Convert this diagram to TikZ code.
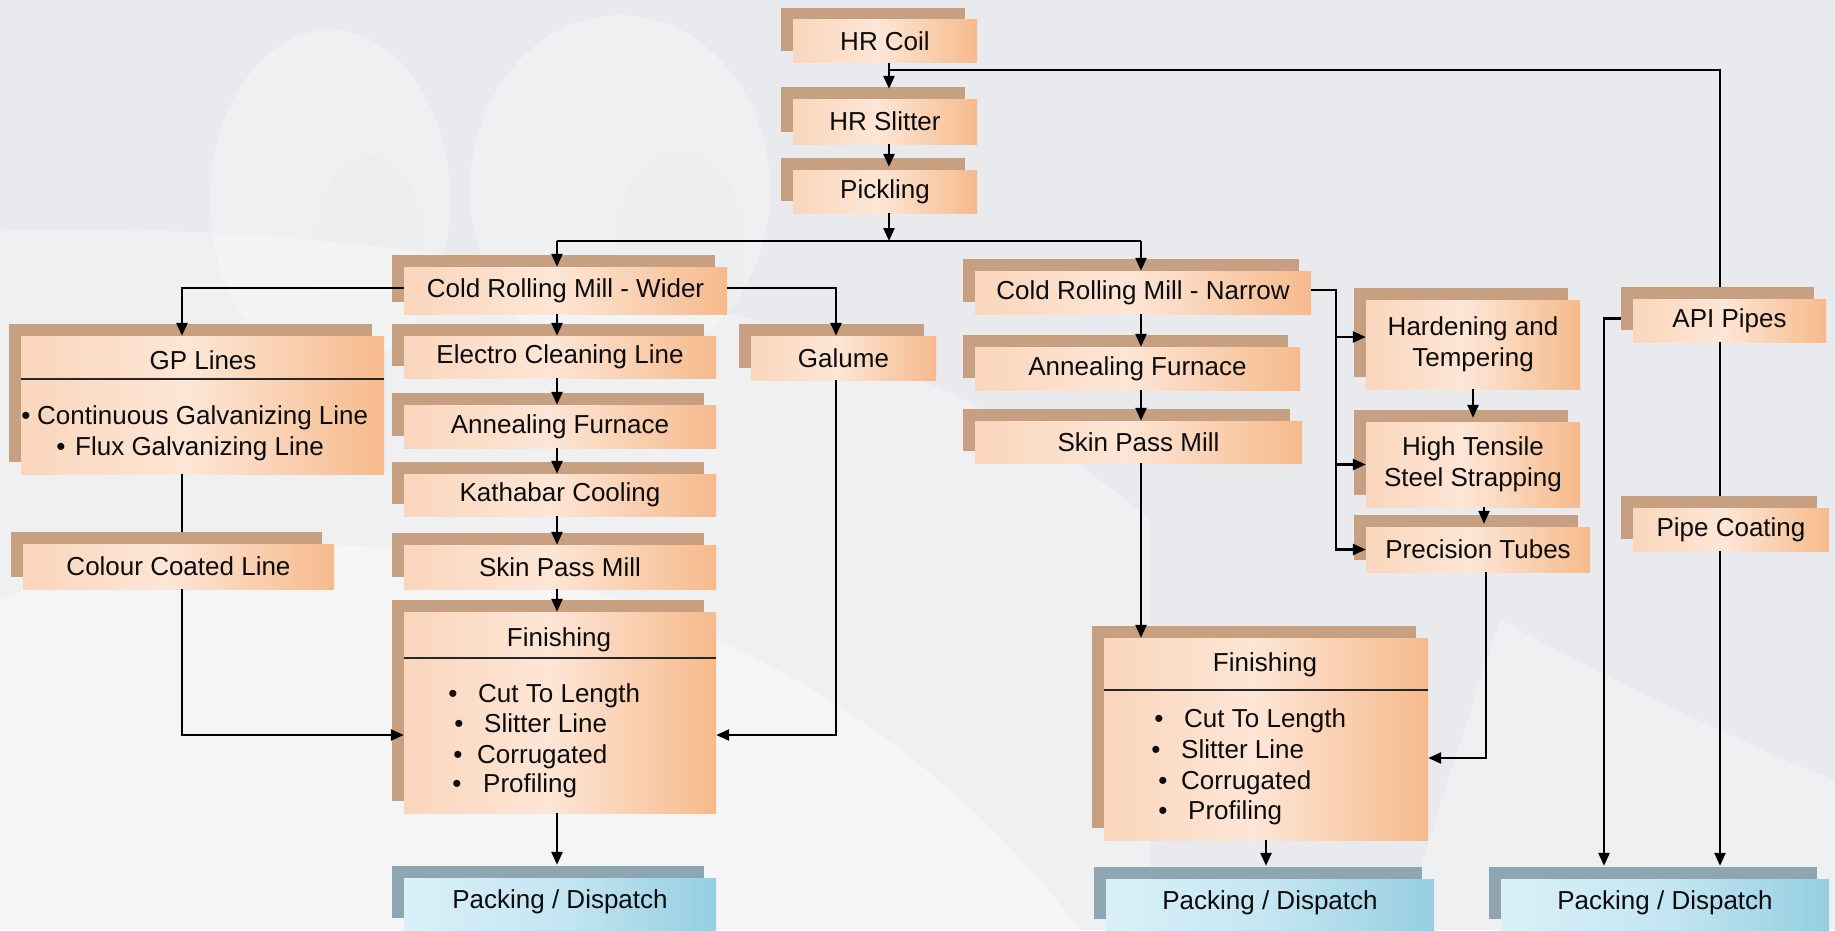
\documentclass[tikz,border=0pt]{standalone}
\usepackage{fontspec}
\setmainfont{Liberation Sans}
\usetikzlibrary{shadows,arrows.meta,calc}
\definecolor{bgc}{RGB}{233,234,237}
\definecolor{tanS}{RGB}{198,160,128}
\definecolor{orL}{RGB}{250,214,188}
\definecolor{orM}{RGB}{253,230,214}
\definecolor{orA}{RGB}{246,186,140}
\definecolor{blS}{RGB}{142,166,178}
\definecolor{blL}{RGB}{218,240,248}
\definecolor{blM}{RGB}{196,230,242}
\definecolor{blA}{RGB}{150,206,226}
\definecolor{txtc}{RGB}{12,12,12}
\pgfdeclarehorizontalshading{orshade}{100bp}{color(0bp)=(orL); color(25bp)=(orL); color(48bp)=(orM); color(75bp)=(orA); color(100bp)=(orA)}
\pgfdeclarehorizontalshading{blshade}{100bp}{color(0bp)=(blL); color(25bp)=(blL); color(50bp)=(blM); color(75bp)=(blA); color(100bp)=(blA)}
\newcommand\boxfont{\fontsize{26}{31}\selectfont}
\newcommand\myitem[6]{%
  \node[buln] (#1b) at (#2,#4) {•};
  \node[txtn] (#1) at (#3,#4) {#5#6};}
\tikzset{
  obox/.style={rectangle, inner sep=0pt, align=center, text=txtc, font=\boxfont,
    shade, shading=orshade,
    drop shadow={shadow xshift=-12pt, shadow yshift=12pt, fill=tanS, opacity=1}},
  pbox/.style={rectangle, inner sep=0pt, align=center, text=txtc, font=\boxfont,
    shade, shading=blshade, anchor=base, text height=30pt, text depth=22pt,
    drop shadow={shadow xshift=-12pt, shadow yshift=12pt, fill=blS, opacity=1}},
  ln/.style={line width=2.5pt, draw=black, line join=miter},
  arr/.style={ln, -{Triangle[length=13pt,width=11pt]}},
  sepl/.style={line width=1.6pt, draw=black!85},
  txtn/.style={inner sep=0pt, anchor=base west, font=\boxfont, text=txtc},
  buln/.style={inner sep=0pt, anchor=base, font=\boxfont, text=txtc},
  ttl/.style={inner sep=0pt, anchor=base, font=\boxfont, text=txtc},
}
\begin{document}
\begin{tikzpicture}[x=1pt,y=-1pt]
\useasboundingbox (0,0) rectangle (1835,930);
% background
\fill[bgc] (0,0) rectangle (1835,930);
\fill[white, opacity=0.3] (330,200) ellipse [x radius=120, y radius=170];
\fill[white, opacity=0.3] (620,190) ellipse [x radius=150, y radius=175];
\fill[black!8, opacity=0.35] (370,250) ellipse [x radius=55, y radius=95];
\fill[black!8, opacity=0.35] (680,250) ellipse [x radius=65, y radius=100];
\fill[white, opacity=0.55] (0,600) .. controls (300,470) and (800,560) .. (1080,930) -- (0,930) -- cycle;
\fill[white, opacity=0.3] (0,230) .. controls (400,220) and (900,300) .. (1150,520) -- (1150,930) -- (1080,930) .. controls (800,560) and (300,470) .. (0,600) -- cycle;
\fill[white, opacity=0.3] (1500,620) .. controls (1650,700) and (1780,760) .. (1835,780) -- (1835,930) -- (1400,930) -- cycle;

% top column
\node[obox, minimum width=184pt, minimum height=43pt] (hrcoil) at (885,41) {HR Coil};
\node[obox, minimum width=184pt, minimum height=45pt] (hrslit) at (885,121.5) {HR Slitter};
\node[obox, minimum width=184pt, minimum height=43pt] (pickling) at (885,191.5) {Pickling};

% wider column
\node[obox, minimum width=323pt, minimum height=47pt] (crmw) at (565.5,290.5) {Cold Rolling Mill - Wider};
\node[obox, minimum width=312pt, minimum height=42pt] (elec) at (560,357) {Electro Cleaning Line};
\node[obox, minimum width=312pt, minimum height=43pt] (annW) at (560,426.5) {Annealing Furnace};
\node[obox, minimum width=312pt, minimum height=42pt] (kath) at (560,495) {Kathabar Cooling};
\node[obox, minimum width=312pt, minimum height=44pt] (skinW) at (560,567) {Skin Pass Mill};
\node[obox, minimum width=312pt, minimum height=201pt] (finW) at (560,712.5) {};
\node[pbox, minimum width=312pt] (packW) at (560,908) {Packing / Dispatch};
\node[obox, minimum width=185pt, minimum height=44pt] (galume) at (843.5,358) {Galume};

% left column
\node[obox, minimum width=363pt, minimum height=138pt] (gp) at (202.5,405) {};
\node[obox, minimum width=311pt, minimum height=45pt] (colour) at (178.5,566.5) {Colour Coated Line};

% narrow column
\node[obox, minimum width=336pt, minimum height=43pt] (crmn) at (1143,292.5) {Cold Rolling Mill - Narrow};
\node[obox, minimum width=325pt, minimum height=43pt] (annN) at (1137.5,368.5) {Annealing Furnace};
\node[obox, minimum width=327pt, minimum height=42pt] (skinN) at (1138.5,442) {Skin Pass Mill};
\node[obox, minimum width=324pt, minimum height=202pt] (finN) at (1266,739) {};
\node[pbox, minimum width=328pt] (packN) at (1270,909) {Packing / Dispatch};

% right branch
\node[obox, minimum width=214pt, minimum height=89pt] (hard) at (1473,344.5) {Hardening and\\Tempering};
\node[obox, minimum width=214pt, minimum height=85pt] (hts) at (1473,464.5) {High Tensile\\Steel Strapping};
\node[obox, minimum width=224pt, minimum height=45pt] (prec) at (1478,549.5) {Precision Tubes};
\node[obox, minimum width=193pt, minimum height=43pt] (api) at (1729.5,320.5) {API Pipes};
\node[obox, minimum width=196pt, minimum height=43pt] (pipe) at (1731,529.5) {Pipe Coating};
\node[pbox, minimum width=328pt] (packR) at (1665,909) {Packing / Dispatch};

% box contents
\node[ttl] (gpT) at (203,369) {GP Lines};
\draw[sepl] ($(gp.north west)+(0,43)$) -- ($(gp.north east)+(0,43)$);
\myitem{gp1}{26}{37}{424}{Continuous Galvanizing Line}{}
\myitem{gp2}{61}{75}{455}{Flux Galvanizing Line}{}

\node[ttl] (finWT) at (559,646) {Finishing};
\draw[sepl] ($(finW.north west)+(0,46)$) -- ($(finW.north east)+(0,46)$);
\myitem{fw1}{453}{478}{702}{Cut To Length}{}
\myitem{fw2}{459}{484}{732}{Slitter Line}{}
\myitem{fw3}{458}{477}{763}{Corrugated}{}
\myitem{fw4}{457}{483}{792}{Profiling}{}

\node[ttl] (finNT) at (1265,671) {Finishing};
\draw[sepl] ($(finN.north west)+(0,52)$) -- ($(finN.north east)+(0,52)$);
\myitem{fn1}{1159}{1184}{727}{Cut To Length}{}
\myitem{fn2}{1156}{1181}{758}{Slitter Line}{}
\myitem{fn3}{1163}{1181}{789}{Corrugated}{}
\myitem{fn4}{1163}{1188}{819}{Profiling}{}

% junction coordinates
\coordinate (jTop) at (889,70);
\coordinate (jMid) at (889,241);
\coordinate (jWL) at (557,241);
\coordinate (jNL) at (1141,241);
\coordinate (colW) at (557,0);
\coordinate (colG) at (182,0);
\coordinate (colGa) at (836,0);
\coordinate (rowF) at (0,735);
\coordinate (colN) at (1141,0);
\coordinate (colB) at (1336,0);
\coordinate (hardArr) at (0,337);
\coordinate (colP) at (1484,0);
\coordinate (colP2) at (1486,0);
\coordinate (rowFN) at (0,758);
\coordinate (colA) at (1720,0);
\coordinate (colL) at (1604,0);

% connectors: top
\draw[arr] (jTop |- hrcoil.south) -- ($(jTop |- hrslit.north)+(0,-10)$);
\draw[arr] (jTop |- hrslit.south) -- ($(jTop |- pickling.north)+(0,-3)$);
\draw[arr] (jTop |- pickling.south) -- (jMid);
\draw[ln] (jWL) -- (jNL);
\draw[ln] (jTop) -| ($(colA |- api.north)+(0,-12)$);

% wider column
\draw[arr] (jWL) -- (colW |- crmw.north);
\draw[arr] (colW |- crmw.south) -- (colW |- elec.north);
\draw[arr] (colW |- elec.south) -- (colW |- annW.north);
\draw[arr] (colW |- annW.south) -- (colW |- kath.north);
\draw[arr] (colW |- kath.south) -- (colW |- skinW.north);
\draw[arr] (colW |- skinW.south) -- (colW |- finW.north);
\draw[arr] (colW |- finW.south) -- ($(colW |- packW.north)+(0,-13)$);

% left branch
\draw[arr] (crmw.west |- 0,288) -| (colG |- gp.north);
\draw[ln] (colG |- gp.south) -- ($(colG |- colour.north)+(0,-12)$);
\draw[arr] (colG |- colour.south) |- (finW.west |- rowF);

% galume
\draw[arr] (crmw.east |- 0,288) -| (colGa |- galume.north);
\draw[arr] (colGa |- galume.south) |- (finW.east |- rowF);

% narrow column
\draw[arr] (jNL) -- (colN |- crmn.north);
\draw[arr] (colN |- crmn.south) -- (colN |- annN.north);
\draw[arr] (colN |- annN.south) -- (colN |- skinN.north);
\draw[arr] (colN |- skinN.south) -- (colN |- finN.north);
\draw[arr] (finN.south) -- ($(finN.south |- packN.north)+(0,-13)$);

% right branch
\draw[arr] (crmn.east |- 0,290) -| (colB |- prec.west) -- (prec.west);
\draw[arr] (colB |- hardArr) -- (hard.west |- hardArr);
\draw[arr] (colB |- hts.west) -- (hts.west);
\draw[arr] (hard.south) -- ($(hts.north)+(0,-4)$);
\draw[arr] (colP |- hts.south) -- ($(colP |- prec.north)+(0,-3)$);
\draw[arr] (colP2 |- prec.south) |- (finN.east |- rowFN);

% API pipes
\draw[ln] (colA |- api.south) -- ($(colA |- pipe.north)+(0,-12)$);
\draw[arr] (colA |- pipe.south) -- ($(colA |- packR.north)+(0,-13)$);
\draw[arr] ($(api.west)+(-12,-2)$) -| ($(colL |- packR.north)+(0,-13)$);
\end{tikzpicture}
\end{document}
